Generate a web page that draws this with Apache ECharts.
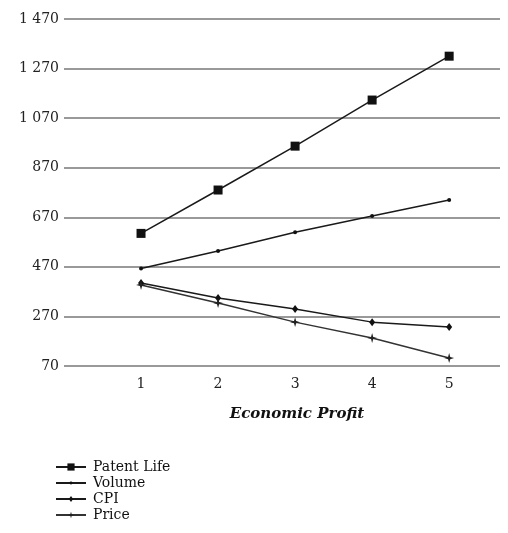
<!DOCTYPE html>
<html>
<head>
<meta charset="utf-8">
<script src="https://cdn.jsdelivr.net/npm/echarts@6/dist/echarts.min.js"></script>
<style>html,body{margin:0;padding:0;background:#fff;}#c{width:508px;height:533px;}</style>
</head>
<body>
<div id="c"></div>
<script>
var categories = [1, 2, 3, 4, 5];
var patentLife = [605, 780, 957, 1143, 1320];
var volume = [463, 534, 610, 675, 740];
var cpi = [405, 344, 300, 247, 227];
var price = [397, 324, 247, 183, 102];
var yTicks = [70, 270, 470, 670, 870, 1070, 1270, 1470];
var seriesNames = ['Patent Life', 'Volume', 'CPI', 'Price'];

function pairs(arr){ return categories.map(function(c,i){ return [c, arr[i]]; }); }
function fmtY(v){
  if (v >= 1000) { var r = String(v - 1000); while (r.length < 3) r = '0' + r; return '1 ' + r; }
  return String(v);
}
var font = 'DejaVu Serif';
// padded symbols (tiny corner slivers enlarge the bounding box so the visible mark stays small)
var pad = 'M0,0L0.01,0L0.01,0.01Z M10,10L9.99,10L9.99,9.99Z ';
var smallDot = 'path://' + pad + 'M3,5A2,2 0 1 1 7,5A2,2 0 1 1 3,5Z';
var diamond = 'path://' + pad + 'M5,1L8,5L5,9L2,5Z';
var star = 'path://' + pad + 'M5,0.5L6,4L9.5,5L6,6L5,9.5L4,6L0.5,5L4,4Z';

var chart = echarts.init(document.getElementById('c'), null, {renderer: 'canvas'});
var lineStyle = {color: '#1a1a1a', width: 1.5};
chart.setOption({
  animation: false,
  backgroundColor: '#fff',
  grid: {left: 64, right: 8, top: 19, bottom: 167},
  xAxis: {
    type: 'value', min: 0, max: 5.66, interval: 1,
    axisLine: {show: false}, axisTick: {show: false}, splitLine: {show: false},
    axisLabel: {
      customValues: categories,
      color: '#222', fontFamily: font, fontSize: 14, margin: 11
    },
    name: 'Economic Profit', nameLocation: 'middle', nameGap: 41,
    nameTextStyle: {fontFamily: font, fontSize: 15, fontWeight: 'bold', fontStyle: 'italic', color: '#111', padding: [0, 0, 0, 30]}
  },
  yAxis: {
    type: 'value', min: 70, max: 1470,
    axisLine: {show: false},
    axisTick: {show: false, customValues: yTicks},
    axisLabel: {customValues: yTicks, formatter: fmtY, color: '#222', fontFamily: font, fontSize: 14, margin: 5},
    splitLine: {show: true, lineStyle: {color: '#999', width: 2}}
  },
  legend: {
    orient: 'vertical', left: 50, top: 455, height: 75,
    itemWidth: 30, itemHeight: 9, itemGap: 2,
    textStyle: {fontFamily: font, fontSize: 14, color: '#111', lineHeight: 14, padding: [0, 0, 0, 2]},
    data: seriesNames
  },
  series: [
    {name: seriesNames[0], type: 'line', data: pairs(patentLife), symbol: 'rect', symbolSize: 9,
      itemStyle: {color: '#111'}, lineStyle: lineStyle},
    {name: seriesNames[1], type: 'line', data: pairs(volume), symbol: smallDot, symbolSize: 10,
      itemStyle: {color: '#111'}, lineStyle: lineStyle},
    {name: seriesNames[2], type: 'line', data: pairs(cpi), symbol: diamond, symbolSize: 10,
      itemStyle: {color: '#111'}, lineStyle: lineStyle},
    {name: seriesNames[3], type: 'line', data: pairs(price), symbol: star, symbolSize: 11,
      itemStyle: {color: '#222'}, lineStyle: {color: '#333', width: 1.5}}
  ]
});
</script>
</body>
</html>
